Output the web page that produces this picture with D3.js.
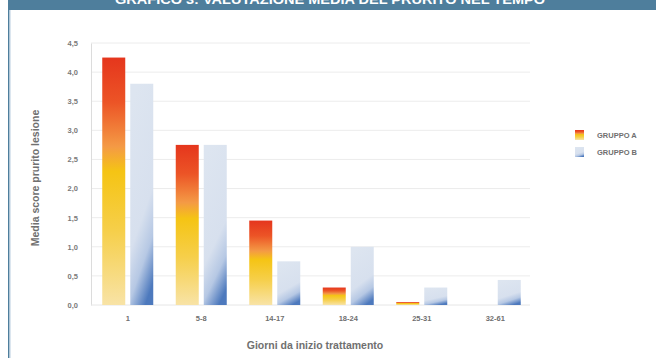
<!DOCTYPE html>
<html>
<head>
<meta charset="utf-8">
<script src="https://cdn.jsdelivr.net/npm/d3@7"></script>
<style>
  html, body { margin: 0; padding: 0; background: #fff; }
  svg { display: block; font-family: "Liberation Sans", Arial, sans-serif; }
</style>
</head>
<body>
<svg id="chart" width="656" height="358"></svg>
<script>
// Mean itch score per time window since treatment start
const categories = ["1", "5-8", "14-17", "18-24", "25-31", "32-61"];
const gruppoA = [4.25, 2.75, 1.45, 0.3, 0.05, 0];
const gruppoB = [3.8, 2.75, 0.75, 1.0, 0.3, 0.43];
const seriesNames = ["GRUPPO A", "GRUPPO B"];
const yTicks = [0, 0.5, 1, 1.5, 2, 2.5, 3, 3.5, 4, 4.5];

const svg = d3.select("#chart");
const W = 656, H = 358;
const frame = "#4e7e9c";

// Gradients for the two groups
const defs = svg.append("defs");
const gA = defs.append("linearGradient").attr("id", "gradA")
  .attr("x1", 0).attr("y1", 0).attr("x2", 0).attr("y2", 1);
[[0, "#e5361d"], [0.18, "#ec5426"], [0.36, "#f49a45"], [0.46, "#f5c414"],
 [0.7, "#f6cf4a"], [1, "#f8e3a6"]].forEach(([o, c]) =>
  gA.append("stop").attr("offset", o).attr("stop-color", c));
const gB = defs.append("linearGradient").attr("id", "gradB")
  .attr("x1", 0.35).attr("y1", 0).attr("x2", 0.65).attr("y2", 1);
[[0, "#dde5f0"], [0.6, "#d7e0ee"], [0.8, "#b6c8e4"], [1, "#4d79bd"]].forEach(([o, c]) =>
  gB.append("stop").attr("offset", o).attr("stop-color", c));

// Header band and left frame line
svg.append("rect").attr("x", 8).attr("y", 0).attr("width", W - 8).attr("height", 10).attr("fill", frame);
svg.append("text").attr("x", 330).attr("y", 3.5).attr("text-anchor", "middle")
  .attr("fill", "#fff").attr("font-size", 12).attr("font-weight", "bold")
  .attr("textLength", 430).attr("lengthAdjust", "spacingAndGlyphs")
  .text("GRAFICO 3: VALUTAZIONE MEDIA DEL PRURITO NEL TEMPO");
svg.append("rect").attr("x", 8).attr("y", 0).attr("width", 1.5).attr("height", H).attr("fill", frame);
svg.append("rect").attr("x", 9.5).attr("y", 10).attr("width", 1).attr("height", H).attr("fill", "#b9cde0");

// Scales
const plot = { left: 91, right: 532, top: 43, bottom: 305 };
const x = d3.scaleBand().domain(categories).range([plot.left, plot.right]);
const y = d3.scaleLinear().domain([0, 4.5]).range([plot.bottom, plot.top]);
const fmt = v => d3.format(".1f")(v).replace(".", ",");

// Gridlines
svg.append("g").selectAll("line").data(yTicks.slice(1)).join("line")
  .attr("x1", plot.left).attr("x2", plot.right - 2)
  .attr("y1", d => y(d)).attr("y2", d => y(d))
  .attr("stroke", "#ececec").attr("stroke-width", 1);

// Y axis
const yAxis = svg.append("g").attr("transform", `translate(${plot.left},0)`)
  .call(d3.axisLeft(y).tickValues(yTicks).tickFormat(fmt).tickSize(0).tickPadding(13));
yAxis.select(".domain").attr("stroke", "#dcdcdc");
yAxis.selectAll("text").attr("fill", "#7a7a7a").attr("font-size", 7.5).attr("font-weight", "bold")
  .attr("font-family", "'Liberation Sans', Arial, sans-serif");

// Baseline
svg.append("line").attr("x1", plot.left).attr("x2", plot.right - 2)
  .attr("y1", plot.bottom).attr("y2", plot.bottom).attr("stroke", "#e6e6e6");

// X axis labels
const xAxis = svg.append("g").attr("transform", `translate(0,${plot.bottom})`)
  .call(d3.axisBottom(x).tickSize(0).tickPadding(11));
xAxis.select(".domain").remove();
xAxis.selectAll("text").attr("fill", "#6f6f6f").attr("font-size", 7.5).attr("font-weight", "bold")
  .attr("font-family", "'Liberation Sans', Arial, sans-serif");

// Bars
const barW = 23, gap = 5;
const groups = svg.append("g").selectAll("g").data(categories).join("g")
  .attr("transform", d => `translate(${x(d) + x.bandwidth() / 2},0)`);
[gruppoA, gruppoB].forEach((vals, si) => {
  groups.append("rect")
    .attr("x", si === 0 ? -barW - gap / 2 : gap / 2)
    .attr("y", (d, i) => y(vals[i]))
    .attr("width", barW)
    .attr("height", (d, i) => y(0) - y(vals[i]))
    .attr("fill", si === 0 ? "url(#gradA)" : "url(#gradB)");
});

// Axis titles
svg.append("text").attr("x", 315).attr("y", 349).attr("text-anchor", "middle")
  .attr("fill", "#707070").attr("font-size", 10.5).attr("font-weight", "bold")
  .text("Giorni da inizio trattamento");
svg.append("text").attr("transform", "translate(39,178) rotate(-90)").attr("text-anchor", "middle")
  .attr("fill", "#707070").attr("font-size", 10.5).attr("font-weight", "bold")
  .text("Media score prurito lesione");

// Legend
const legend = svg.append("g").attr("transform", "translate(575,130)");
seriesNames.forEach((name, i) => {
  const g = legend.append("g").attr("transform", `translate(0,${i * 17})`);
  g.append("rect").attr("width", 9).attr("height", 10)
    .attr("fill", i === 0 ? "url(#gradA)" : "url(#gradB)");
  g.append("text").attr("x", 22).attr("y", 8).attr("fill", "#6f6f6f")
    .attr("font-size", 7.5).attr("font-weight", "bold").text(name);
});
</script>
</body>
</html>
